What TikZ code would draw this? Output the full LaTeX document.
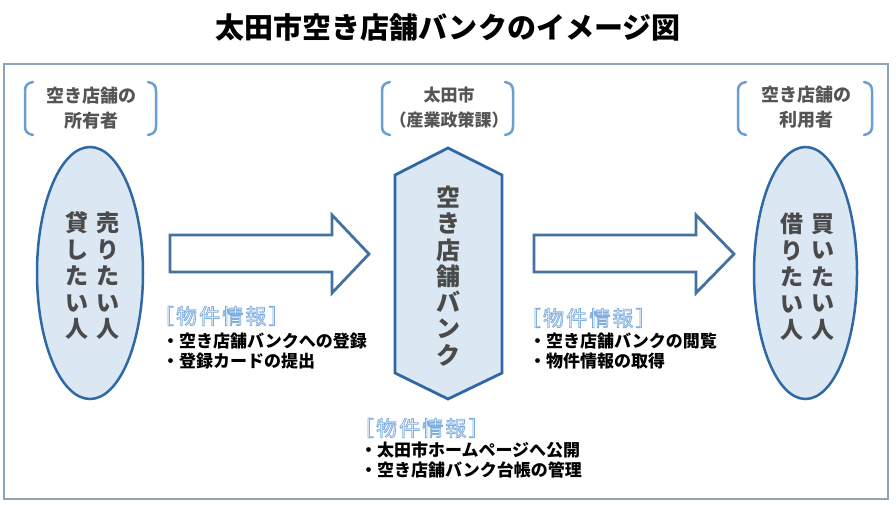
\documentclass[tikz,border=0pt]{standalone}
\usepackage{fontspec}
\setmainfont{Noto Sans CJK JP}
\newfontfamily\headfont[LetterSpace=10]{Noto Sans CJK JP}
\usetikzlibrary{shapes.geometric}
\definecolor{framec}{HTML}{8FA3B8}
\definecolor{shapeline}{HTML}{2F69A5}
\definecolor{shapefill}{HTML}{DCE7F4}
\definecolor{arrowline}{HTML}{4472A0}
\definecolor{bracketc}{HTML}{6A9FD0}
\definecolor{infoc}{HTML}{7FAEE0}
\definecolor{textg}{HTML}{4A4A4A}
\definecolor{labelg}{HTML}{555555}
\newcommand{\outlinetext}[1]{\special{pdf:literal direct 1 Tr 0.8 w}#1\special{pdf:literal direct 0 Tr}}
\begin{document}
\begin{tikzpicture}[x=1pt,y=-1pt,
  every node/.style={inner sep=0pt,outer sep=0pt},
  titletext/.style={font=\fontsize{29}{32}\selectfont\bfseries,text=black},
  grouplabel/.style={font=\fontsize{18}{25}\selectfont\bfseries,text=labelg,align=center},
  bracketline/.style={draw=bracketc,line width=2.5pt,line cap=round},
  personshape/.style={ellipse,draw=shapeline,fill=shapefill,line width=2.5pt},
  vcol/.style={font=\fontsize{23}{26.5}\selectfont\bfseries,text=textg,align=center},
  bankcol/.style={font=\fontsize{24}{26.3}\selectfont\bfseries,text=textg,align=center},
  blockarrow/.style={draw=arrowline,fill=white,line width=2.8pt,line join=miter},
  infohead/.style={font=\headfont\fontsize{21}{22}\selectfont,text=infoc,anchor=west},
  infobody/.style={font=\fontsize{17}{20}\selectfont\bfseries,text=black,align=left,anchor=north west}
]
\useasboundingbox (0,0) rectangle (896,504);
\fill[white] (0,0) rectangle (896,504);

% title
\node[titletext] (title) at (448,27) {太田市空き店舗バンクのイメージ図};

% frame
\draw[framec,line width=1.4pt] (4,64) rectangle (888,499);

% group labels with brackets
\node[grouplabel] (lblowner) at (91,108) {空き店舗の\\所有者};
\draw[bracketline] (33,82) .. controls (27,83) and (25,86) .. (25,91) -- (25,126) .. controls (25,131) and (27,134) .. (33,135);
\draw[bracketline] (148,82) .. controls (154,83) and (156,86) .. (156,91) -- (156,126) .. controls (156,131) and (154,134) .. (148,135);

\node[grouplabel,font=\fontsize{17}{25}\selectfont\bfseries] (lblcity) at (449,108) {太田市\\（産業政策課）};
\draw[bracketline] (390,82) .. controls (384,83) and (382,86) .. (382,91) -- (382,126) .. controls (382,131) and (384,134) .. (390,135);
\draw[bracketline] (505,82) .. controls (511,83) and (513,86) .. (513,91) -- (513,126) .. controls (513,131) and (511,134) .. (505,135);

\node[grouplabel] (lbluser) at (806,107) {空き店舗の\\利用者};
\draw[bracketline] (746,82) .. controls (740,83) and (738,86) .. (738,91) -- (738,126) .. controls (738,131) and (740,134) .. (746,135);
\draw[bracketline] (864,82) .. controls (870,83) and (872,86) .. (872,91) -- (872,126) .. controls (872,131) and (870,134) .. (864,135);

% ellipses
\node[personshape,minimum width=106pt,minimum height=252pt] (owner) at (90,273) {};
\node[vcol] (sell) at (108,276) {売\\り\\た\\い\\人};
\node[vcol] (lend) at (77,276) {貸\\し\\た\\い\\人};

\node[personshape,minimum width=103pt,minimum height=252pt] (user) at (805.5,273) {};
\node[vcol] (buy) at (823,277) {買\\い\\た\\い\\人};
\node[vcol] (borrow) at (792,277) {借\\り\\た\\い\\人};

% hexagon
\draw[draw=shapeline,fill=shapefill,line width=2.8pt,line join=miter]
  (448,148) -- (502,175) -- (502,373) -- (448,399) -- (395,373) -- (395,175) -- cycle;
\node[bankcol] (bank) at (448,276) {空\\き\\店\\舗\\バ\\ン\\ク};

% block arrows
\draw[blockarrow] (170,235) -- (332,235) -- (332,215) -- (369,254) -- (332,293) -- (332,272) -- (170,272) -- cycle;
\draw[blockarrow] (534,235) -- (696,235) -- (696,215) -- (734,254) -- (696,293) -- (696,272) -- (534,272) -- cycle;

% info texts
\node[infohead] (infoA) at (153,316) {\outlinetext{［物件情報］}};
\node[infobody] (bodyA) at (162,333) {・空き店舗バンクへの登録\\・登録カードの提出};

\node[infohead] (infoB) at (520,318) {\outlinetext{［物件情報］}};
\node[infobody] (bodyB) at (529,333) {・空き店舗バンクの閲覧\\・物件情報の取得};

\node[infohead] (infoC) at (353,428) {\outlinetext{［物件情報］}};
\node[infobody] (bodyC) at (360,442) {・太田市ホームページへ公開\\・空き店舗バンク台帳の管理};
\end{tikzpicture}
\end{document}
